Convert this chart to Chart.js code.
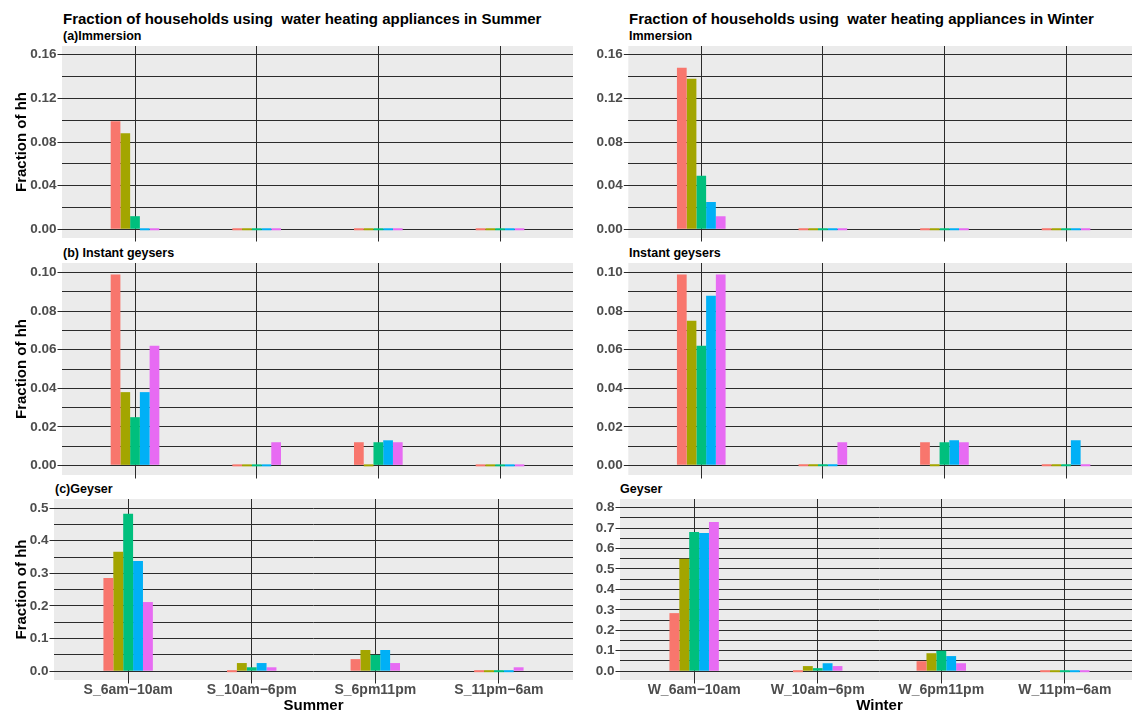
<!DOCTYPE html>
<html>
<head>
<meta charset="utf-8">
<script src="https://cdn.jsdelivr.net/npm/chart.js@4.4.1/dist/chart.umd.min.js"></script>
<style>
  html, body { margin: 0; padding: 0; background: #fff; }
  #wrap { position: relative; width: 1132px; height: 715px; overflow: hidden; background: #fff;
          font-family: "Liberation Sans", Arial, sans-serif; }
  .box { position: absolute; }
  .title { position: absolute; font-weight: bold; color: #000; white-space: pre; line-height: 1; }
  .main { font-size: 15px; }
  .sub { font-size: 12.5px; }
</style>
</head>
<body>
<div id="wrap">
  <div class="title main" style="left:63px; top:11px;">Fraction of households using  water heating appliances in Summer</div>
  <div class="title main" style="left:629px; top:11px;">Fraction of households using  water heating appliances in Winter</div>
  <div class="title sub" style="left:63px; top:30px;">(a)Immersion</div>
  <div class="title sub" style="left:629px; top:30px;">Immersion</div>
  <div class="title sub" style="left:63px; top:247px;">(b) Instant geysers</div>
  <div class="title sub" style="left:629px; top:247px;">Instant geysers</div>
  <div class="title sub" style="left:55px; top:483px;">(c)Geyser</div>
  <div class="title sub" style="left:620px; top:483px;">Geyser</div>

  <div class="box" style="left:0px; top:46px; width:573px; height:200px;"><canvas id="c1"></canvas></div>
  <div class="box" style="left:570px; top:46px; width:569px; height:200px;"><canvas id="c2"></canvas></div>
  <div class="box" style="left:0px; top:263px; width:573px; height:220px;"><canvas id="c3"></canvas></div>
  <div class="box" style="left:570px; top:263px; width:569px; height:220px;"><canvas id="c4"></canvas></div>
  <div class="box" style="left:0px; top:499px; width:573px; height:216px;"><canvas id="c5"></canvas></div>
  <div class="box" style="left:570px; top:499px; width:569px; height:216px;"><canvas id="c6"></canvas></div>
</div>
<script>
// ---- data -------------------------------------------------------------
const groups = ['Group 1', 'Group 2', 'Group 3', 'Group 4', 'Group 5'];
const groupColors = ['#F8766D', '#A3A500', '#00BF7D', '#00B0F6', '#E76BF3'];

const summerSlots = ['S_6am\u221210am', 'S_10am\u22126pm', 'S_6pm11pm', 'S_11pm\u22126am'];
const winterSlots = ['W_6am\u221210am', 'W_10am\u22126pm', 'W_6pm11pm', 'W_11pm\u22126am'];

// one row per group, one value per time slot
const immersionSummer = [
  [0.099, 0, 0, 0],
  [0.088, 0, 0, 0],
  [0.012, 0, 0, 0],
  [0, 0, 0, 0],
  [0, 0, 0, 0]
];
const immersionWinter = [
  [0.148, 0, 0, 0],
  [0.138, 0, 0, 0],
  [0.049, 0, 0, 0],
  [0.025, 0, 0, 0],
  [0.012, 0, 0, 0]
];
const instantSummer = [
  [0.099, 0, 0.012, 0],
  [0.038, 0, 0, 0],
  [0.025, 0, 0.012, 0],
  [0.038, 0, 0.013, 0],
  [0.062, 0.012, 0.012, 0]
];
const instantWinter = [
  [0.099, 0, 0.012, 0],
  [0.075, 0, 0, 0],
  [0.062, 0, 0.012, 0],
  [0.088, 0, 0.013, 0.013],
  [0.099, 0.012, 0.012, 0]
];
const geyserSummer = [
  [0.286, 0, 0.037, 0],
  [0.366, 0.025, 0.065, 0],
  [0.483, 0.012, 0.050, 0],
  [0.338, 0.025, 0.065, 0],
  [0.212, 0.012, 0.025, 0.012]
];
const geyserWinter = [
  [0.284, 0, 0.049, 0],
  [0.550, 0.025, 0.088, 0],
  [0.681, 0.015, 0.100, 0],
  [0.676, 0.039, 0.074, 0],
  [0.730, 0.025, 0.039, 0]
];

// labelled y ticks per row
const immersionTicks = [0, 0.04, 0.08, 0.12, 0.16];
const instantTicks = [0, 0.02, 0.04, 0.06, 0.08, 0.10];
const geyserSummerTicks = [0, 0.1, 0.2, 0.3, 0.4, 0.5];
const geyserWinterTicks = [0, 0.1, 0.2, 0.3, 0.4, 0.5, 0.6, 0.7, 0.8];

// ---- drawing ----------------------------------------------------------
const FONT = '"Liberation Sans", Arial, sans-serif';
const GRID = '#2b2b2b';

const panelBg = {
  id: 'panelBg',
  beforeDraw(chart) {
    const { ctx, chartArea: a } = chart;
    ctx.save();
    ctx.fillStyle = '#EBEBEB';
    ctx.fillRect(a.left, a.top, a.right - a.left, a.bottom - a.top);
    ctx.restore();
  }
};

// major breaks plus the minor breaks halfway between them
function withMinor(major) {
  const out = [];
  for (let i = 0; i < major.length; i++) {
    out.push({ value: major[i], isMajor: true });
    if (i < major.length - 1) out.push({ value: (major[i] + major[i + 1]) / 2, isMajor: false });
  }
  return out;
}

// keep the panel edges exactly where the axes put them
function noEdgePadding(scale) {
  scale.paddingTop = 0;
  scale.paddingBottom = 0;
  scale.paddingLeft = 0;
  scale.paddingRight = 0;
}

function makePanel(id, cfg) {
  const datasets = cfg.values.map((row, g) => ({
    label: groups[g],
    data: row.map((v, k) => ({ x: k + 1, y: v })),
    backgroundColor: groupColors[g],
    borderWidth: 0,
    minBarLength: 2,
    categoryPercentage: 0.4,
    barPercentage: 1.0
  }));
  const decimals = cfg.decimals;
  return new Chart(document.getElementById(id), {
    type: 'bar',
    data: { datasets },
    plugins: [panelBg],
    options: {
      responsive: true,
      maintainAspectRatio: false,
      animation: false,
      layout: { padding: 0 },
      plugins: { legend: { display: false }, tooltip: { enabled: false }, title: { display: false } },
      scales: {
        x: {
          type: 'linear',
          min: 0.4,
          max: 4.6,
          offset: false,
          afterBuildTicks(scale) { scale.ticks = cfg.slots.map((s, k) => ({ value: k + 1 })); },
          afterFit(scale) { scale.height = cfg.xHeight; noEdgePadding(scale); },
          border: { display: false },
          grid: { offset: false, color: GRID, lineWidth: 1, drawTicks: true, tickLength: 3.5, tickColor: GRID, tickWidth: 1 },
          ticks: {
            display: cfg.showX,
            autoSkip: false,
            maxRotation: 0,
            padding: -2,
            color: '#4D4D4D',
            font: { family: FONT, size: 14, weight: 'bold' },
            callback: (v) => cfg.slots[Math.round(v) - 1]
          },
          title: {
            display: !!cfg.xTitle,
            text: cfg.xTitle || '',
            color: '#000',
            font: { family: FONT, size: 15, weight: 'bold' },
            padding: { top: 0, bottom: 0 }
          }
        },
        y: {
          min: cfg.yMin,
          max: cfg.yMax,
          afterBuildTicks(scale) { scale.ticks = withMinor(cfg.yTicks); },
          afterFit(scale) { scale.width = cfg.yWidth; noEdgePadding(scale); },
          border: { display: false },
          grid: {
            color: GRID,
            lineWidth: 1,
            drawTicks: true,
            tickLength: 4.5,
            tickWidth: 1,
            tickColor: (c) => (c.tick && c.tick.isMajor ? GRID : 'rgba(0,0,0,0)')
          },
          ticks: {
            autoSkip: false,
            padding: 1,
            color: '#4D4D4D',
            font: { family: FONT, size: 13.5, weight: 'bold' },
            callback: (v, i, ticks) => (ticks[i].isMajor ? Number(v).toFixed(decimals) : '')
          },
          title: {
            display: !!cfg.yTitle,
            text: cfg.yTitle || '',
            color: '#000',
            font: { family: FONT, size: 15, weight: 'bold' },
            padding: { top: 13, bottom: 0 }
          }
        }
      }
    }
  });
}

makePanel('c1', { values: immersionSummer, slots: summerSlots, yTicks: immersionTicks, yMin: -0.008, yMax: 0.168,
  decimals: 2, yWidth: 62, xHeight: 8, showX: false, yTitle: 'Fraction of hh' });
makePanel('c2', { values: immersionWinter, slots: winterSlots, yTicks: immersionTicks, yMin: -0.008, yMax: 0.168,
  decimals: 2, yWidth: 58.3, xHeight: 8, showX: false });
makePanel('c3', { values: instantSummer, slots: summerSlots, yTicks: instantTicks, yMin: -0.005, yMax: 0.105,
  decimals: 2, yWidth: 62, xHeight: 8, showX: false, yTitle: 'Fraction of hh' });
makePanel('c4', { values: instantWinter, slots: winterSlots, yTicks: instantTicks, yMin: -0.005, yMax: 0.105,
  decimals: 2, yWidth: 58.3, xHeight: 8, showX: false });
makePanel('c5', { values: geyserSummer, slots: summerSlots, yTicks: geyserSummerTicks, yMin: -0.027, yMax: 0.528,
  decimals: 1, yWidth: 54, xHeight: 35, showX: true, yTitle: 'Fraction of hh', xTitle: 'Summer' });
makePanel('c6', { values: geyserWinter, slots: winterSlots, yTicks: geyserWinterTicks, yMin: -0.043, yMax: 0.842,
  decimals: 1, yWidth: 50, xHeight: 35, showX: true, xTitle: 'Winter' });
</script>
</body>
</html>
